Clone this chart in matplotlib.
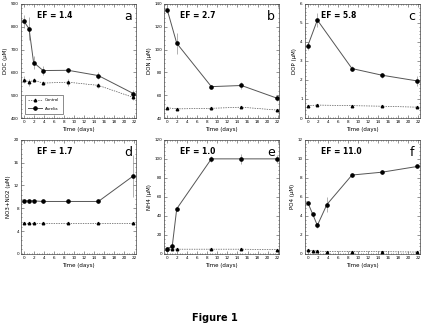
import matplotlib
matplotlib.use("Agg")
import matplotlib.pyplot as plt
from matplotlib.ticker import MultipleLocator

# sampling times (days)
t_full = [0, 1, 1.9, 3.8, 8.8, 14.8, 21.8]
t_short = [0, 1.9, 8.8, 14.8, 21.8]
t_nh4 = [0, 1, 1.9, 8.8, 14.8, 21.8]

# panel a - DOC
doc_aur = [823, 791, 643, 608, 609, 586, 507]
doc_aur_err = [30, 50, 30, 20, 10, 15, 15]
doc_ctl = [568, 557, 566, 553, 557, 543, 490]
doc_ctl_err = [15, 15, 8, 8, 15, 12, 10]

# panel b - DON
don_aur = [135, 105.5, 67.5, 68.5, 57.5]
don_aur_err = [3, 9, 1.5, 3, 3]
don_ctl = [49, 48, 48.5, 49.5, 47]
don_ctl_err = [1.5, 0.8, 1.5, 1, 0.8]

# panel c - DOP
dop_aur = [3.8, 5.15, 2.6, 2.25, 1.95]
dop_aur_err = [0.2, 0.35, 0.12, 0.12, 0.25]
dop_ctl = [0.65, 0.68, 0.65, 0.62, 0.57]

# panel d - NO3+NO2
nox_aur = [9.3, 9.3, 9.3, 9.2, 9.2, 9.2, 13.7]
nox_aur_err = [0.2, 0.2, 0.2, 0.2, 0.2, 0.2, 3.7]
nox_ctl = [5.4, 5.4, 5.4, 5.4, 5.4, 5.4, 5.4]

# panel e - NH4
nh4_aur = [5.5, 8, 47.5, 100, 100, 100]
nh4_aur_err = [1.5, 3, 1, 3, 5, 4]
nh4_ctl = [5, 5, 5, 5, 5, 4.5]

# panel f - PO4
po4_aur = [5.4, 4.15, 3.0, 5.2, 8.3, 8.6, 9.2]
po4_aur_err = [0.1, 0.1, 0.25, 0.8, 0.25, 0.2, 0.1]
po4_ctl = [0.4, 0.35, 0.3, 0.25, 0.25, 0.25, 0.2]

panels = [
    dict(t_a=t_full, a=doc_aur, ae=doc_aur_err, t_c=t_full, c=doc_ctl, ce=doc_ctl_err,
         ylabel="DOC (µM)", ylim=(400, 900), step=100, minor=20, ef="EF = 1.4", tag="a"),
    dict(t_a=t_short, a=don_aur, ae=don_aur_err, t_c=t_short, c=don_ctl, ce=don_ctl_err,
         ylabel="DON (µM)", ylim=(40, 140), step=20, minor=4, ef="EF = 2.7", tag="b"),
    dict(t_a=t_short, a=dop_aur, ae=dop_aur_err, t_c=t_short, c=dop_ctl, ce=None,
         ylabel="DOP (µM)", ylim=(0, 6), step=1, minor=0.2, ef="EF = 5.8", tag="c"),
    dict(t_a=t_full, a=nox_aur, ae=nox_aur_err, t_c=t_full, c=nox_ctl, ce=None,
         ylabel="NO3+NO2 (µM)", ylim=(0, 20), step=4, minor=0.8, ef="EF = 1.7", tag="d"),
    dict(t_a=t_nh4, a=nh4_aur, ae=nh4_aur_err, t_c=t_nh4, c=nh4_ctl, ce=None,
         ylabel="NH4 (µM)", ylim=(0, 120), step=20, minor=4, ef="EF = 1.0", tag="e"),
    dict(t_a=t_full, a=po4_aur, ae=po4_aur_err, t_c=t_full, c=po4_ctl, ce=None,
         ylabel="PO4 (µM)", ylim=(0, 12), step=2, minor=0.4, ef="EF = 11.0", tag="f"),
]

fig = plt.figure(figsize=(4.21, 3.26), dpi=100)
lefts = [0.050, 0.390, 0.724]
bottoms = [0.638, 0.221]
w, h = 0.273, 0.350

line_col = "#555555"
for i, p in enumerate(panels):
    ax = fig.add_axes([lefts[i % 3], bottoms[i // 3], w, h])
    ax.errorbar(p["t_c"], p["c"], yerr=p["ce"], color=line_col, ls=(0, (2, 1.5)), lw=0.5,
                marker="^", ms=1.8, mfc="black", mec="black", elinewidth=0.4, ecolor="#777777",
                capsize=0, label="Control")
    ax.errorbar(p["t_a"], p["a"], yerr=p["ae"], color=line_col, ls="-", lw=0.7,
                marker="o", ms=2.3, mfc="black", mec="black", elinewidth=0.4, ecolor="#777777",
                capsize=0, label="Aurelia")
    ax.set_xlim(-0.6, 22.3)
    ax.set_ylim(*p["ylim"])
    ax.xaxis.set_major_locator(MultipleLocator(2))
    ax.xaxis.set_minor_locator(MultipleLocator(0.5))
    ax.yaxis.set_major_locator(MultipleLocator(p["step"]))
    ax.yaxis.set_minor_locator(MultipleLocator(p["minor"]))
    ax.tick_params(which="both", direction="in", top=True, right=True, labelsize=3, pad=1.5,
                   width=0.4, color="#444444")
    ax.tick_params(which="major", length=2)
    ax.tick_params(which="minor", length=1)
    for s in ax.spines.values():
        s.set_linewidth(0.5)
        s.set_color("#444444")
    ax.set_xlabel("Time (days)", fontsize=4, labelpad=2)
    ax.set_ylabel(p["ylabel"], fontsize=4, labelpad=2)
    ax.text(0.14, 0.895, p["ef"], transform=ax.transAxes, fontsize=5.5, fontweight="bold",
            va="center", ha="left")
    ax.text(0.93, 0.89, p["tag"], transform=ax.transAxes, fontsize=9, va="center", ha="center")
    if i == 0:
        hnd, lab = ax.get_legend_handles_labels()
        ax.legend(hnd, lab, loc="lower left", fontsize=2.8, frameon=True, fancybox=False,
                  edgecolor="black", handlelength=3.5, borderpad=0.8, labelspacing=1.2,
                  bbox_to_anchor=(0.02, 0.02)).get_frame().set_linewidth(0.4)

fig.text(0.51, 0.025, "Figure 1", ha="center", va="center", fontsize=7, fontweight="bold")
fig.savefig("out.png", dpi=100)
